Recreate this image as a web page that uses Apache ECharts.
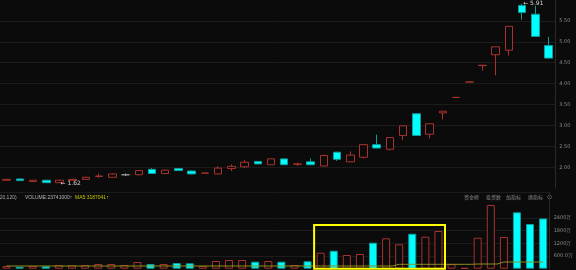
<!DOCTYPE html>
<html><head><meta charset="utf-8">
<script src="https://cdn.jsdelivr.net/npm/echarts@6/dist/echarts.min.js"></script>
<style>html,body{margin:0;padding:0;background:#0b0b0b}#c{width:576px;height:270px}</style>
</head><body><div id="c"></div>
<script>
// ---- data ----
const categories = ['K01','K02','K03','K04','K05','K06','K07','K08','K09','K10','K11','K12','K13','K14','K15','K16','K17','K18','K19','K20','K21','K22','K23','K24','K25','K26','K27','K28','K29','K30','K31','K32','K33','K34','K35','K36','K37','K38','K39','K40','K41','K42'];
const openP  = [1.69,1.72,1.66,1.69,1.63,1.69,1.71,1.78,1.76,1.82,1.82,1.95,1.85,1.97,1.91,1.86,1.84,1.97,2.01,2.14,2.06,2.20,2.07,2.13,2.03,2.36,2.13,2.24,2.54,2.43,2.76,3.28,2.79,3.30,3.67,4.04,4.43,4.69,4.80,5.87,5.66,4.91];
const closeP = [1.71,1.68,1.69,1.63,1.69,1.71,1.76,1.79,1.84,1.82,1.92,1.85,1.93,1.92,1.84,1.86,1.98,2.02,2.12,2.08,2.20,2.06,2.08,2.06,2.28,2.19,2.29,2.54,2.46,2.71,2.99,2.76,3.04,3.34,3.67,4.04,4.44,4.88,5.37,5.70,5.13,4.61];
const lowP   = [1.68,1.67,1.65,1.63,1.62,1.68,1.70,1.75,1.75,1.79,1.81,1.84,1.84,1.91,1.83,1.86,1.83,1.91,1.98,2.07,2.05,2.05,2.03,2.05,2.02,2.15,2.12,2.21,2.45,2.40,2.65,2.75,2.69,3.14,3.67,4.04,4.31,4.20,4.67,5.53,5.12,4.60];
const highP  = [1.72,1.73,1.70,1.70,1.70,1.72,1.77,1.85,1.86,1.85,1.93,1.98,1.94,1.98,1.92,1.86,2.02,2.07,2.17,2.15,2.21,2.21,2.11,2.21,2.30,2.37,2.38,2.55,2.78,2.72,3.00,3.29,3.05,3.34,3.67,4.04,4.44,4.88,5.37,5.91,5.86,5.12];
// volume in 万 (10k shares)
const volume = [128,95,128,113,175,160,175,222,222,175,316,222,222,269,255,128,364,411,411,331,364,331,175,350,756,850,647,694,1228,1436,1153,1653,1512,1781,215,33,1464,3009,1497,2664,2111,2374.1];
const volMA  = [128,128,128,128,128,128,128,128,128,128,128,128,128,128,128,128,128,128,128,128,128,128,128,128,128,128,128,128,128,128,208,208,208,208,208,208,222,222,316,317,318,318.7];
const priceTickValues = [2.0,2.5,3.0,3.5,4.0,4.5,5.0,5.5];
const priceTickLabels = ['2.00','2.50','3.00','3.50','4.00','4.50','5.00','5.50'];
const volTickValues = [600,1200,1800,2400];
const volTickLabels = ['600.0万','1200万','1800万','2400万'];
const boxStart = 24, boxEnd = 33, boxTop = 2064;
const legendLeft = ['(20,120)','VOLUME:23741000↑','MA5:3187041↑'];
const toolLabels = ['资金榜','投资数','加指标','换指标','⊙'];

// ---- styles ----
const BG = '#0b0b0b', RED = '#a8322e', CYAN = '#00ffff', CYAN_B = '#129a9a', DOJI = '#9a9a9a', GRID = '#1c1c1c';

const candleData = categories.map((_, i) => {
  const o = openP[i], c = closeP[i], l = lowP[i], h = highP[i];
  const item = { value: [o, c, l, h] };
  if (o === c) {
    const col = (h === l) ? RED : DOJI;
    item.itemStyle = { borderColor: col, borderColor0: col, borderColorDoji: col, color: BG, color0: BG };
  }
  return item;
});
const volData = volume.map((v, i) => {
  const up = closeP[i] >= openP[i];
  return { value: v, itemStyle: up ? { color: BG, borderColor: RED, borderWidth: 1 } : { color: CYAN, borderColor: CYAN_B, borderWidth: 1 } };
});

function lookup(vals, labels, v) {
  for (let i = 0; i < vals.length; i++) if (Math.abs(vals[i] - v) < 1e-6) return labels[i];
  return '';
}

const chart = echarts.init(document.getElementById('c'), null, { renderer: 'canvas' });
const L = -4.67, R = 20.8;
const smallFont = '5px "Liberation Sans"';
chart.setOption({
  backgroundColor: BG,
  animation: false,
  grid: [
    { left: L, right: R, top: -2.15, height: 190.3 },
    { left: L, right: R, top: 192.5, height: 76.2 }
  ],
  xAxis: [
    { type: 'category', gridIndex: 0, data: categories, boundaryGap: true, axisLine: { show: false }, axisTick: { show: false }, axisLabel: { show: false }, splitLine: { show: false } },
    { type: 'category', gridIndex: 1, data: categories, boundaryGap: true, axisLine: { show: false }, axisTick: { show: false }, axisLabel: { show: false }, splitLine: { show: false } }
  ],
  yAxis: [
    { type: 'value', gridIndex: 0, position: 'right', min: 1.5, max: 6.0, interval: 0.5,
      axisLine: { show: true, lineStyle: { color: '#2a2a2a' } }, axisTick: { show: false },
      axisLabel: { color: '#8a8a8a', fontSize: 5, fontFamily: 'DejaVu Sans', margin: 4, formatter: v => lookup(priceTickValues, priceTickLabels, v) },
      splitLine: { show: true, lineStyle: { color: ['transparent', GRID, GRID, GRID, GRID, GRID, GRID, GRID, GRID, 'transparent'], width: 1 } } },
    { type: 'value', gridIndex: 1, position: 'right', min: 0, max: 3600, interval: 600,
      axisLine: { show: true, lineStyle: { color: '#2a2a2a' } }, axisTick: { show: false },
      axisLabel: { color: '#8a8a8a', fontSize: 5, fontFamily: 'DejaVu Sans', margin: 4, formatter: v => lookup(volTickValues, volTickLabels, v) },
      splitLine: { show: true, lineStyle: { color: ['transparent', GRID, GRID, GRID, GRID, 'transparent', GRID], width: 1 } } }
  ],
  series: [
    { type: 'candlestick', xAxisIndex: 0, yAxisIndex: 0, barWidth: 8, data: candleData,
      itemStyle: { color: BG, color0: CYAN, borderColor: RED, borderColor0: CYAN_B, borderColorDoji: DOJI, borderWidth: 1 },
      markPoint: { symbol: 'circle', symbolSize: 0, silent: true, animation: false,
        label: { show: true, position: 'right', distance: 1, color: '#d8d8d8', fontSize: 6, fontFamily: 'DejaVu Sans',
          formatter: p => '← ' + Number(p.value).toFixed(2) },
        data: [{ type: 'max', valueDim: 'highest' }, { type: 'min', valueDim: 'lowest' }] } },
    { type: 'bar', xAxisIndex: 1, yAxisIndex: 1, barWidth: 8, data: volData, z: 2 },
    { type: 'line', xAxisIndex: 1, yAxisIndex: 1, data: volMA, step: 'middle', symbol: 'none', z: 3,
      lineStyle: { color: '#8e8e1e', width: 1 } },
    { type: 'custom', xAxisIndex: 1, yAxisIndex: 1, silent: true, z: 10, clip: false,
      data: [[boxStart, boxEnd, boxTop]], encode: { x: [0, 1], y: 2 },
      renderItem: (params, api) => {
        const a = api.coord([api.value(0), 0]);
        const b = api.coord([api.value(1), api.value(2)]);
        const w = api.size([1, 0])[0];
        return { type: 'rect', shape: { x: a[0] - w / 2, y: b[1], width: b[0] - a[0] + w, height: a[1] - b[1] },
          style: { fill: 'none', stroke: '#ffff00', lineWidth: 2 } };
      } }
  ],
  graphic: [
    { type: 'text', x: -2, y: 198, style: { text: legendLeft[0], fill: '#a8a8a8', font: smallFont, verticalAlign: 'middle' } },
    { type: 'text', x: 25, y: 198, style: { text: legendLeft[1], fill: '#b8b8b8', font: smallFont, verticalAlign: 'middle' } },
    { type: 'text', x: 75, y: 198, style: { text: legendLeft[2], fill: '#c8c800', font: smallFont, verticalAlign: 'middle' } },
    { type: 'text', x: 464, y: 197, style: { text: toolLabels[0], fill: '#8a8a8a', font: '5px "Noto Sans CJK SC"', verticalAlign: 'middle' } },
    { type: 'text', x: 486, y: 197, style: { text: toolLabels[1], fill: '#8a8a8a', font: '5px "Noto Sans CJK SC"', verticalAlign: 'middle' } },
    { type: 'text', x: 506, y: 197, style: { text: toolLabels[2], fill: '#8a8a8a', font: '5px "Noto Sans CJK SC"', verticalAlign: 'middle' } },
    { type: 'text', x: 528, y: 197, style: { text: toolLabels[3], fill: '#8a8a8a', font: '5px "Noto Sans CJK SC"', verticalAlign: 'middle' } },
    { type: 'text', x: 547, y: 197, style: { text: toolLabels[4], fill: '#8a8a8a', font: '6px "DejaVu Sans"', verticalAlign: 'middle' } }
  ]
});
</script></body></html>
